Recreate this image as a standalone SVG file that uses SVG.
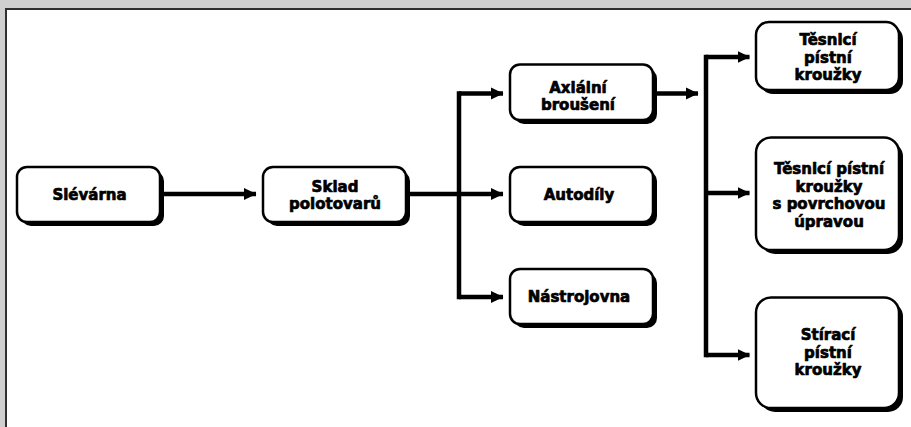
<svg xmlns="http://www.w3.org/2000/svg" width="911" height="427" viewBox="0 0 911 427">
<style>
.shadow{fill:#000}
.box{fill:#fff;stroke:#000;stroke-width:2.5}
.lbl{font-family:"DejaVu Sans","Verdana",sans-serif;font-weight:bold;font-size:15px;fill:#000;stroke:#000;stroke-width:0.7;stroke-linejoin:round;text-anchor:middle}
.wire{fill:none;stroke:#000;stroke-width:4.5}
.arr{fill:none;stroke:#000;stroke-width:4.5;marker-end:url(#ah)}
</style>
<defs>
<marker id="ah" markerUnits="userSpaceOnUse" markerWidth="13" markerHeight="13" refX="12" refY="6.5" orient="auto" viewBox="0 0 13 13">
<path d="M0,0.5 L12.5,6.5 L0,12.5 Z" fill="#000"/>
</marker>
</defs>
<rect x="0" y="0" width="911" height="427" fill="#d0d0d0"/>
<rect x="7" y="10" width="904" height="417" fill="#fff"/>
<path d="M6,427 V9 H911" fill="none" stroke="#303030" stroke-width="2"/>

<g id="connectors">
<path class="arr" d="M164,194 H256"/>
<path class="wire" d="M409,194 H459"/>
<path class="wire" d="M459,91.25 V299.25"/>
<path class="arr" d="M459,93.5 H503"/>
<path class="arr" d="M459,194 H503"/>
<path class="arr" d="M459,297 H503"/>
<path class="arr" d="M656,93.5 H698"/>
<path class="wire" d="M706,54.75 V357.25"/>
<path class="arr" d="M706,57 H749.5"/>
<path class="arr" d="M706,193 H749.5"/>
<path class="arr" d="M706,355 H749.5"/>
</g>

<g id="slevarna">
<rect class="shadow" x="21" y="171" width="143" height="55" rx="10"/>
<rect class="box" x="17" y="167" width="143" height="55" rx="10"/>
<text class="lbl" x="89.5" y="200">Slévárna</text>
</g>

<g id="sklad">
<rect class="shadow" x="267" y="171" width="143" height="55" rx="10"/>
<rect class="box" x="263" y="167" width="143" height="55" rx="10"/>
<text class="lbl" x="335" y="191.5">Sklad</text>
<text class="lbl" x="335" y="209.2">polotovarů</text>
</g>

<g id="axialni">
<rect class="shadow" x="514" y="68.5" width="143" height="55.5" rx="10"/>
<rect class="box" x="510" y="64.5" width="143" height="55.5" rx="10"/>
<text class="lbl" x="578" y="92.7">Axiální</text>
<text class="lbl" x="578" y="109.5">broušení</text>
</g>

<g id="autodily">
<rect class="shadow" x="514" y="171" width="143" height="55" rx="10"/>
<rect class="box" x="510" y="167" width="143" height="55" rx="10"/>
<text class="lbl" x="579" y="200">Autodíly</text>
</g>

<g id="nastrojovna">
<rect class="shadow" x="514" y="273" width="143" height="55" rx="10"/>
<rect class="box" x="510" y="269" width="143" height="55" rx="10"/>
<text class="lbl" x="579" y="302">Nástrojovna</text>
</g>

<g id="tesnici">
<rect class="shadow" x="760" y="26" width="143" height="68" rx="13"/>
<rect class="box" x="756" y="22" width="143" height="68" rx="13"/>
<text class="lbl" x="828" y="45">Těsnlcí</text>
<text class="lbl" x="828" y="62.5">pístní</text>
<text class="lbl" x="828" y="80">kroužky</text>
</g>

<g id="tesnici-upravou">
<rect class="shadow" x="760" y="141.5" width="143" height="112.5" rx="15"/>
<rect class="box" x="756" y="137.5" width="143" height="112.5" rx="15"/>
<text class="lbl" x="829" y="174">Těsnicí pístní</text>
<text class="lbl" x="829" y="191.5">kroužky</text>
<text class="lbl" x="829" y="209">s povrchovou</text>
<text class="lbl" x="829" y="226.5">úpravou</text>
</g>

<g id="stiraci">
<rect class="shadow" x="760" y="301.5" width="143" height="110.5" rx="15"/>
<rect class="box" x="756" y="297.5" width="143" height="110.5" rx="15"/>
<text class="lbl" x="828" y="340">Stírací</text>
<text class="lbl" x="828" y="357.5">pístní</text>
<text class="lbl" x="828" y="375">kroužky</text>
</g>
</svg>
